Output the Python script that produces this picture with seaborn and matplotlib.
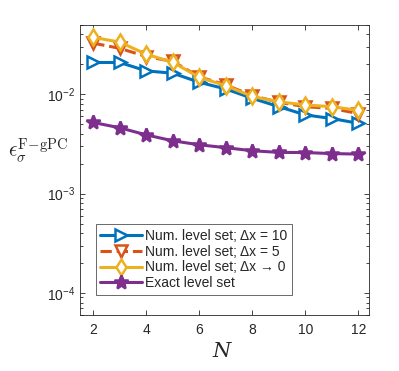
import numpy as np
import pandas as pd
import seaborn as sns
import matplotlib
matplotlib.use("Agg")
import matplotlib.pyplot as plt

N = [2, 3, 4, 5, 6, 7, 8, 9, 10, 11, 12]
num_dx10 = [0.0209, 0.0209, 0.0172, 0.0163, 0.0132, 0.0113, 0.0091, 0.0075, 0.0062, 0.0057, 0.0051]
num_dx5 = [0.0327, 0.0290, 0.0240, 0.0214, 0.0150, 0.0124, 0.0097, 0.0083, 0.0075, 0.0072, 0.0064]
num_dx0 = [0.0374, 0.0335, 0.0253, 0.0210, 0.0148, 0.0122, 0.0095, 0.0084, 0.0078, 0.0075, 0.0069]
exact = [0.0052, 0.0046, 0.0039, 0.0034, 0.0031, 0.0029, 0.0027, 0.0026, 0.00259, 0.00253, 0.0025]

labels = ["Num. level set; \u0394x = 10",
          "Num. level set; \u0394x = 5",
          "Num. level set; \u0394x \u2192 0",
          "Exact level set"]
series = [num_dx10, num_dx5, num_dx0, exact]

sns.set_style("ticks")
plt.rcParams["font.family"] = ["Liberation Sans", "DejaVu Sans"]
plt.rcParams["mathtext.fontset"] = "custom"
plt.rcParams["mathtext.rm"] = "Liberation Sans"
plt.rcParams["mathtext.it"] = "Liberation Sans:italic"

fig = plt.figure(figsize=(3.99, 3.71), dpi=100)
ax = fig.add_axes([0.2005, 0.151, 0.7245, 0.782])

colors = ["#0072BD", "#D95319", "#EDB120", "#7E2F8E"]
markers = [">", "v", "d", "*"]
styles = ["-", "--", "-", "-"]
msizes = [8, 8, 8, 10]

for vals, lab, c, m, ls, ms in zip(series, labels, colors, markers, styles, msizes):
    df = pd.DataFrame({"N": N, "err": vals})
    face = c if m == "*" else "white"
    sns.lineplot(data=df, x="N", y="err", ax=ax, color=c, linestyle=ls, linewidth=2.2,
                 marker=m, markersize=ms, markerfacecolor=face, markeredgecolor=c,
                 markeredgewidth=1.8, label=lab)

ax.set_yscale("log")
ax.set_xlim(1.5, 12.4)
ax.set_ylim(6e-5, 5e-2)
ax.set_xticks([2, 4, 6, 8, 10, 12])
ax.set_yticks([1e-4, 1e-3, 1e-2])
ax.set_yticklabels([r"10$^{-4}$", r"10$^{-3}$", r"10$^{-2}$"])
ax.tick_params(which="both", direction="in", top=True, right=True, labelsize=10,
               color="#262626", labelcolor="#262626", width=0.6)
ax.tick_params(which="major", length=3.5)
ax.tick_params(axis="x", pad=6)
ax.tick_params(which="minor", length=2)
for s in ax.spines.values():
    s.set_visible(True)
    s.set_linewidth(0.6)
    s.set_color("#262626")

ax.set_xlabel("")
ax.set_ylabel("")
fig.text(0.555, 0.052, "N", fontsize=15, family="DejaVu Serif", style="italic",
         ha="center", va="center", color="#262626")
fig.text(0.02, 0.595, r"$\epsilon_{\sigma}^{\mathrm{F\!-\!gPC}}$", fontsize=15,
         math_fontfamily="cm", ha="left", va="center", color="#262626")

leg = ax.legend(loc="lower left", bbox_to_anchor=(0.03, 0.045), fontsize=10,
                frameon=True, fancybox=False, edgecolor="#262626", borderpad=0.35,
                labelspacing=0.12, handlelength=3.0, handletextpad=0.2)
leg.get_frame().set_linewidth(0.6)

fig.savefig("out.png", dpi=100)
